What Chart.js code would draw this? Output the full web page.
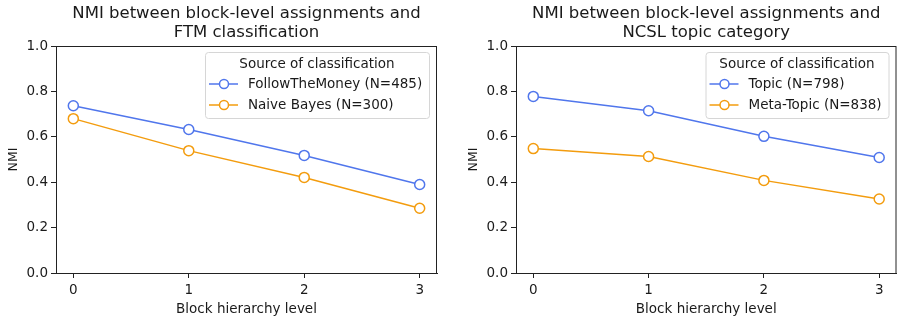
<!DOCTYPE html>
<html>
<head>
<meta charset="utf-8">
<script src="https://cdn.jsdelivr.net/npm/chart.js@4/dist/chart.umd.min.js"></script>
<style>
  body { margin: 0; background: #fff; overflow: hidden; }
  #wrap { position: relative; width: 897px; height: 320px; overflow: hidden; }
  .box { position: absolute; top: 0; height: 320px; }
</style>
</head>
<body>
<div id="wrap">
  <div class="box" style="left:0;width:448px"><canvas id="chartFTM"></canvas></div>
  <div class="box" style="left:448px;width:455px"><canvas id="chartNCSL"></canvas></div>
</div>
<script>
// niveis da hierarquia de blocos
var niveis = [0, 1, 2, 3];
var yTicks = [0, 0.2, 0.4, 0.6, 0.8, 1.0];

// painel esquerdo (FTM)
var ftmFollow = [0.737, 0.632, 0.518, 0.390];
var ftmNaive = [0.680, 0.539, 0.421, 0.285];

// painel direito (NCSL)
var ncslTopic = [0.778, 0.715, 0.602, 0.509];
var ncslMeta = [0.548, 0.513, 0.408, 0.326];

var azul = "#5076ec";
var laranja = "#f39c0e";
var fonte = "'DejaVu Sans', sans-serif";
var corTexto = "#1a1a1a";

function pontos(vals) {
   return vals.map((v, i) => ({ x: niveis[i], y: v }));
}

// titulo centrado na area do grafico, moldura e legenda estilo matplotlib
var molduraLegenda = {
   id: "molduraLegenda",
   afterDraw(chart, args, opts) {
      var ctx = chart.ctx;
      var a = chart.chartArea;
      ctx.save();

      // titulo
      ctx.fillStyle = corTexto;
      ctx.font = "16.5px " + fonte;
      ctx.textAlign = "center";
      ctx.textBaseline = "middle";
      var cx = (a.left + a.right) / 2;
      opts.titulo.forEach((linha, i) => ctx.fillText(linha, cx, 14 + i * 19));

      ctx.strokeStyle = "#222";
      ctx.lineWidth = 1;
      ctx.strokeRect(a.left + 0.5, a.top + 0.5, a.right - a.left - 1, a.bottom - a.top);

      // caixa da legenda
      var w = opts.width, h = 66;
      var x = a.right - 8 - w, y = a.top + 6;
      ctx.fillStyle = "rgba(255,255,255,0.85)";
      ctx.strokeStyle = "#d6d6d6";
      ctx.beginPath();
      ctx.roundRect(x + 0.5, y + 0.5, w, h, 3);
      ctx.fill();
      ctx.stroke();

      ctx.fillStyle = corTexto;
      ctx.font = "13.5px " + fonte;
      ctx.fillText("Source of classification", x + w / 2, y + 12);
      ctx.textAlign = "left";
      chart.data.datasets.forEach((ds, i) => {
         var ly = y + 32 + i * 21;
         ctx.strokeStyle = ds.borderColor;
         ctx.lineWidth = 1.5;
         ctx.beginPath();
         ctx.moveTo(x + 4, ly);
         ctx.lineTo(x + 33, ly);
         ctx.stroke();
         ctx.beginPath();
         ctx.arc(x + 19, ly, 4.5, 0, Math.PI * 2);
         ctx.fillStyle = "#fff";
         ctx.fill();
         ctx.stroke();
         ctx.fillStyle = corTexto;
         ctx.fillText(ds.label, x + 43, ly);
      });
      ctx.restore();
   },
};

function fazGrafico(id, titulo, series, padEsq, padDir, largLegenda) {
   return new Chart(document.getElementById(id).getContext("2d"), {
      type: "line",
      data: {
         datasets: series.map((s) => ({
            label: s.label,
            data: pontos(s.data),
            borderColor: s.cor,
            backgroundColor: "#fff",
            borderWidth: 1.5,
            pointRadius: 5,
            pointBorderWidth: 1.5,
            pointBackgroundColor: "#fff",
            pointBorderColor: s.cor,
            fill: false,
         })),
      },
      options: {
         responsive: true,
         maintainAspectRatio: false,
         animation: false,
         layout: { padding: { left: padEsq, right: padDir, top: 46, bottom: 0 } },
         scales: {
            x: {
               type: "linear",
               min: -0.15,
               max: 3.15,
               afterBuildTicks: (s) => { s.ticks = niveis.map((v) => ({ value: v })); },
               afterFit: (s) => { s.height = 47; },
               grid: { display: true, drawOnChartArea: false, drawTicks: true, tickLength: 5, color: "#222" },
               border: { display: true, color: "#222" },
               ticks: { color: corTexto, font: { size: 13.5, family: fonte }, padding: 4, maxRotation: 0 },
               title: { display: true, text: "Block hierarchy level", color: corTexto, font: { size: 13.5, family: fonte }, padding: { top: 2, bottom: 2 } },
            },
            y: {
               min: 0,
               max: 1,
               afterBuildTicks: (s) => { s.ticks = yTicks.map((v) => ({ value: v })); },
               afterFit: (s) => { s.width = 56; },
               grid: { display: true, drawOnChartArea: false, drawTicks: true, tickLength: 5, color: "#222" },
               border: { display: true, color: "#222" },
               ticks: { color: corTexto, font: { size: 13.5, family: fonte }, padding: 3, callback: (v) => v.toFixed(1) },
               title: { display: true, text: "NMI", color: corTexto, font: { size: 12.5, family: fonte }, padding: { top: 6, bottom: 0 } },
            },
         },
         plugins: {
            legend: { display: false },
            tooltip: { enabled: false },
            title: { display: false },
            molduraLegenda: { width: largLegenda, titulo: titulo },
         },
      },
      plugins: [molduraLegenda],
   });
}

fazGrafico("chartFTM", ["NMI between block-level assignments and", "FTM classification"], [
   { label: "FollowTheMoney (N=485)", data: ftmFollow, cor: azul },
   { label: "Naive Bayes (N=300)", data: ftmNaive, cor: laranja },
], 0, 11, 224);

fazGrafico("chartNCSL", ["NMI between block-level assignments and", "NCSL topic category"], [
   { label: "Topic (N=798)", data: ncslTopic, cor: azul },
   { label: "Meta-Topic (N=838)", data: ncslMeta, cor: laranja },
], 12, 0, 183);
</script>
</body>
</html>
